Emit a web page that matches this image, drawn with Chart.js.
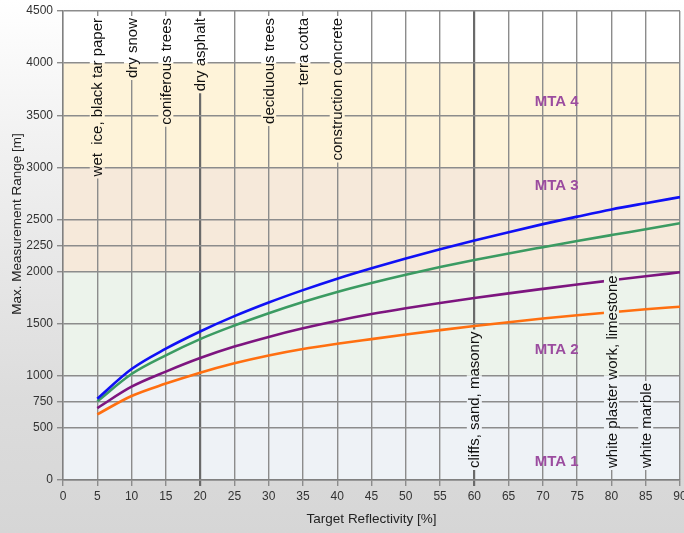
<!DOCTYPE html>
<html>
<head>
<meta charset="utf-8">
<script src="https://cdn.jsdelivr.net/npm/chart.js@4/dist/chart.umd.min.js"></script>
<style>
  html, body { margin: 0; padding: 0; }
  body { width: 684px; height: 533px; overflow: hidden; }
  #wrap { width: 684px; height: 533px; background: linear-gradient(to bottom, #ffffff 0%, #f2f2f2 25%, #dcdcdc 75%, #d6d6d6 100%); }
  canvas { display: block; }
</style>
</head>
<body>
<div id="wrap"><canvas id="c" width="684" height="533"></canvas></div>
<script>
// ---- data ----
const reflectivity = [5,10,15,20,25,30,35,40,45,50,55,60,65,70,75,80,85,90];
const seriesBlue   = [780,1065,1260,1425,1572,1703,1822,1932,2032,2126,2214,2298,2378,2455,2527,2596,2656,2714];
const seriesGreen  = [755,1017,1196,1352,1482,1600,1708,1805,1891,1970,2043,2110,2174,2234,2293,2350,2406,2463];
const seriesPurple = [690,895,1040,1170,1280,1373,1455,1528,1592,1648,1699,1746,1791,1834,1876,1916,1955,1993];
const seriesOrange = [630,806,925,1030,1120,1195,1257,1307,1352,1396,1438,1477,1514,1549,1581,1610,1638,1663];
const yTickValues = [0,500,750,1000,1500,2000,2250,2500,3000,3500,4000,4500];
const bandEdges = [0,1000,2000,3000,4000,4500];
const bandNames = ['MTA 1','MTA 2','MTA 3','MTA 4', ''];
const bandLabelY = [170,1250,2820,3630];
const bandLabelX = 72;
const topMaterials = [[5,'wet  ice, black tar paper'],[10,'dry snow'],[15,'coniferous trees'],[20,'dry asphalt'],[30,'deciduous trees'],[35,'terra cotta'],[40,'construction concrete']];
const bottomMaterials = [[60,'cliffs, sand, masonry'],[80,'white plaster work, limestone'],[85,'white marble']];
const thickGridX = [20,60];

const bandColors = ['#eef2f6','#ecf3eb','#f6e9da','#fef3d9','#ffffff'];
const FONT = '"Liberation Sans", Arial, sans-serif';

function pts(arr){ return reflectivity.map((x,i)=>({x:x,y:arr[i]})); }

function fillBands(ctx, chart, clipRect){
  const y = chart.scales.y, a = chart.chartArea;
  ctx.save();
  ctx.beginPath();
  if (clipRect) ctx.rect(clipRect.x, clipRect.y, clipRect.w, clipRect.h);
  else ctx.rect(a.left, a.top, a.right-a.left, a.bottom-a.top);
  ctx.clip();
  for (let i=0;i<bandEdges.length-1;i++){
    const y0 = y.getPixelForValue(bandEdges[i]);
    const y1 = y.getPixelForValue(bandEdges[i+1]);
    ctx.fillStyle = bandColors[i];
    ctx.fillRect(a.left, y1, a.right-a.left, y0-y1);
  }
  ctx.restore();
}

const decor = {
  id: 'decor',
  beforeDraw(chart){
    fillBands(chart.ctx, chart, null);
  },
  afterDatasetsDraw(chart){
    const ctx = chart.ctx, xs = chart.scales.x, ys = chart.scales.y, a = chart.chartArea;
    ctx.save();
    ctx.font = '15px ' + FONT;
    const drawMat = (v, text, top) => {
      const px = xs.getPixelForValue(v);
      const w = ctx.measureText(text).width;
      const h = 15;
      let yStart, yEnd;
      if (top) { yEnd = a.top + 7; yStart = yEnd + w; }
      else { yStart = a.bottom - 12; yEnd = yStart - w; }
      fillBands(ctx, chart, {x: px - h/2, y: yEnd - 2, w: h, h: w + 4});
      ctx.save();
      ctx.translate(px, yStart);
      ctx.rotate(-Math.PI/2);
      ctx.fillStyle = '#111111';
      ctx.textAlign = 'left';
      ctx.textBaseline = 'middle';
      ctx.fillText(text, 0, 1);
      ctx.restore();
    };
    topMaterials.forEach(m => drawMat(m[0], m[1], true));
    bottomMaterials.forEach(m => drawMat(m[0], m[1], false));
    // band names
    ctx.font = 'bold 15px ' + FONT;
    ctx.fillStyle = '#9b4c9f';
    ctx.textAlign = 'center';
    ctx.textBaseline = 'middle';
    bandLabelY.forEach((v,i) => ctx.fillText(bandNames[i], xs.getPixelForValue(bandLabelX), ys.getPixelForValue(v)));
    // y axis title
    ctx.save();
    ctx.translate(17, 224);
    ctx.rotate(-Math.PI/2);
    ctx.font = '13.5px ' + FONT;
    ctx.fillStyle = '#222222';
    ctx.textAlign = 'center';
    ctx.textBaseline = 'middle';
    ctx.fillText('Max. Measurement Range [m]', 0, 0);
    ctx.restore();
    ctx.restore();
  }
};

const lineDs = (label, arr, color) => ({
  label, data: pts(arr), borderColor: color, backgroundColor: color,
  borderWidth: 2.6, pointRadius: 0, cubicInterpolationMode: 'monotone', fill: false
});

new Chart(document.getElementById('c'), {
  type: 'line',
  data: {
    datasets: [
      lineDs('MTA 4', seriesBlue, '#1010f5'),
      lineDs('MTA 3', seriesGreen, '#3b9b62'),
      lineDs('MTA 2', seriesPurple, '#7d157f'),
      lineDs('MTA 1', seriesOrange, '#ff6f10')
    ]
  },
  options: {
    responsive: false,
    animation: false,
    layout: { padding: { top: 11, right: 4, left: 0, bottom: 0 } },
    plugins: { legend: { display: false }, tooltip: { enabled: false } },
    scales: {
      x: {
        type: 'linear', min: 0, max: 90,
        afterFit(s){ s.height = 53; s.paddingRight = 0; s.paddingLeft = 0; },
        ticks: { stepSize: 5, color: '#333333', padding: 3, font: { family: FONT, size: 12 }, callback: v => String(v) },
        grid: {
          color: ctx => thickGridX.includes(ctx.tick && ctx.tick.value) ? '#6a6a6a' : '#8c8c8c',
          lineWidth: ctx => thickGridX.includes(ctx.tick && ctx.tick.value) ? 2.2 : 1.4,
          tickLength: 6
        },
        border: { color: '#808080', width: 1.4 },
        title: { display: true, text: 'Target Reflectivity [%]', color: '#222222', font: { family: FONT, size: 13.5 }, padding: { top: 4, bottom: 6 } }
      },
      y: {
        type: 'linear', min: 0, max: 4500,
        afterFit(s){ s.width = 63; s.paddingTop = 0; s.paddingBottom = 0; },
        afterBuildTicks(s){ s.ticks = yTickValues.map(v => ({ value: v })); },
        ticks: { color: '#333333', padding: 4, font: { family: FONT, size: 12 }, callback: v => String(v) },
        grid: { color: '#8c8c8c', lineWidth: 1.4, tickLength: 6 },
        border: { color: '#808080', width: 1.4 }
      }
    }
  },
  plugins: [decor]
});
</script>
</body>
</html>
